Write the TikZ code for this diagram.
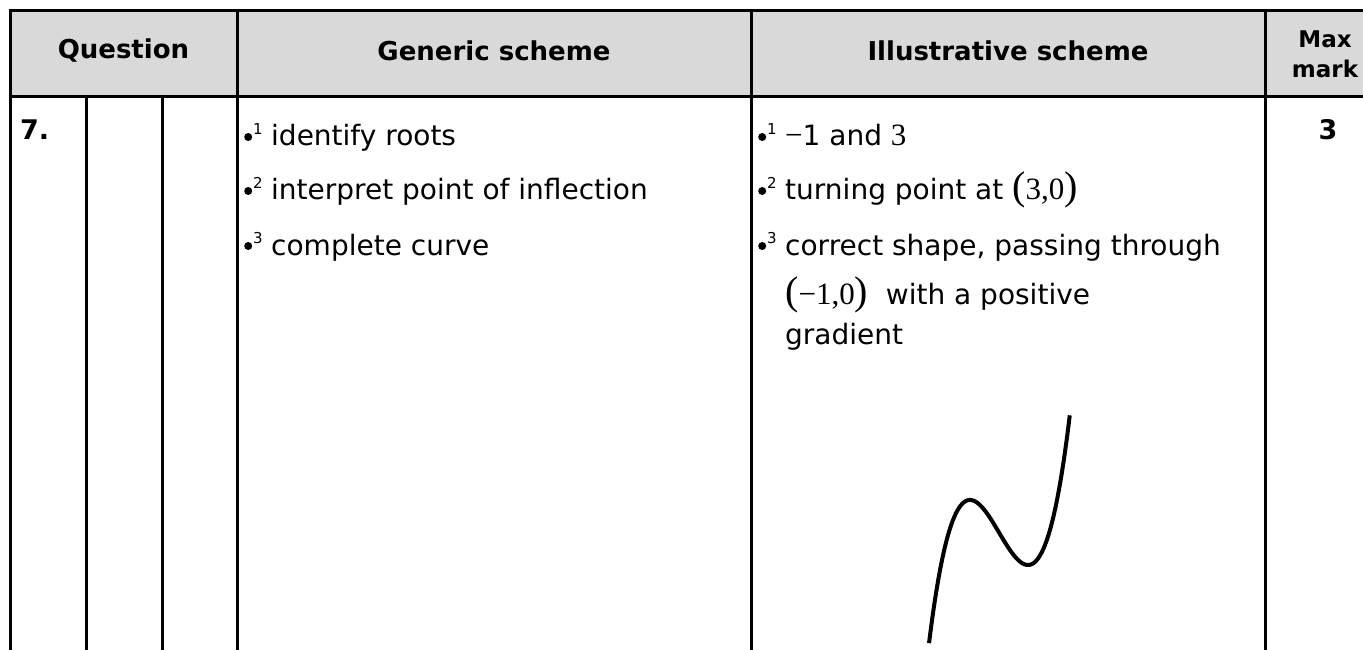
\documentclass[tikz,border=0pt]{standalone}
\usepackage{fontspec}
\setmainfont{DejaVu Sans}
\newfontfamily\serifmath{Liberation Serif}
\newcommand\mybul[1]{\makebox[27pt][l]{\tikz[baseline=0pt]\fill (4pt,9pt) circle (4pt);\kern1pt\raisebox{0.42em}{\fontsize{15}{15}\selectfont #1}}}
\newcommand\bigpair[1]{{\serifmath{\fontsize{40}{30}\selectfont(}\fontsize{31}{30}\selectfont #1{\fontsize{40}{30}\selectfont)}}}
\begin{document}
\begin{tikzpicture}[x=1pt,y=-1pt,
  rule/.style={line width=3pt},
  hdr/.style={font=\fontsize{26}{32}\selectfont\bfseries, align=center},
  txt/.style={font=\fontsize{28}{32}\selectfont, anchor=base west, inner sep=0pt},
  bold/.style={font=\fontsize{27}{32}\selectfont\bfseries, anchor=base, inner sep=0pt},
  curve/.style={line width=4pt}]
\useasboundingbox (0,0) rectangle (1363,650);
% header background
\fill[gray!30] (10,11) rectangle (1363,97);
% borders
\draw[rule] (1363,11) -- (10,11) -- (10,650);
\draw[rule] (10,97) -- (1363,97);
\draw[rule] (86,97) -- (86,650);
\draw[rule] (162,97) -- (162,650);
\draw[rule] (237,11) -- (237,650);
\draw[rule] (751,11) -- (751,650);
\draw[rule] (1265,11) -- (1265,650);
% header text
\node[hdr] (hq) at (123.5,51) {Question};
\node[hdr] (hg) at (494,51) {Generic scheme};
\node[hdr] (hi) at (1008,51) {Illustrative scheme};
\node[hdr, font=\fontsize{23}{30}\selectfont\bfseries] (hm) at (1325,54) {Max\\mark};
% row content
\node[bold, anchor=base west] (qn) at (20,140) {7.};
\node[bold] (mk) at (1328,140) {3};
\node[txt] (g1) at (244,146) {\mybul{1}identify roots};
\node[txt] (g2) at (244,200) {\mybul{2}interpret point of inflection};
\node[txt] (g3) at (244,255) {\mybul{3}complete curve};
\node[txt] (i1) at (758,146) {\mybul{1}{\serifmath\fontsize{31}{30}\selectfont −}1 and {\serifmath\fontsize{31}{30}\selectfont 3}};
\node[txt] (i2) at (758,200) {\mybul{2}turning point at \bigpair{3,0}};
\node[txt] (i3) at (758,255) {\mybul{3}correct shape, passing through};
\node[txt] (i4) at (785,304) {\bigpair{−1,0}\ \ with a positive};
\node[txt] (i5) at (785,344) {gradient};
% sketch of curve
\draw[curve, smooth] plot[domain=-1.55:4.92, samples=120]
  ({1028+(\x-3)*21.75}, {565-(\x+1)*(\x-3)*(\x-3)*6.86});
\end{tikzpicture}
\end{document}
